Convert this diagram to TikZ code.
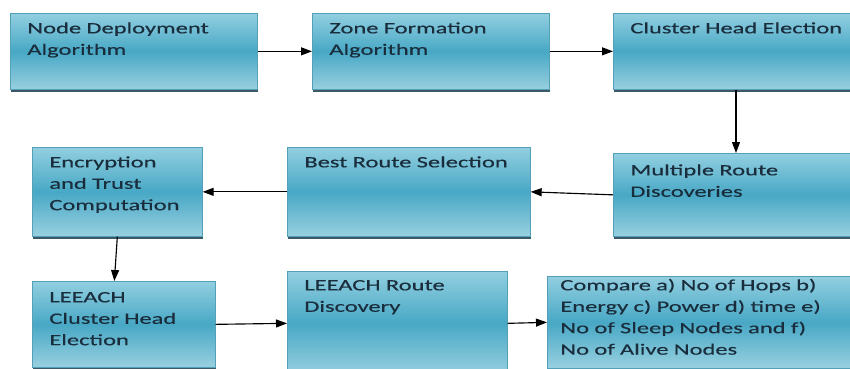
\documentclass[tikz,border=0pt]{standalone}
\usepackage{fontspec}
\setmainfont[FakeStretch=1.55,FakeBold=0.3]{Carlito}
\usetikzlibrary{arrows.meta,shadows}
\definecolor{boxtop}{RGB}{146,207,224}
\definecolor{boxmid}{RGB}{72,168,197}
\definecolor{boxbot}{RGB}{152,208,224}
\definecolor{boxline}{RGB}{84,160,184}
\definecolor{boxshadow}{RGB}{40,70,85}
\definecolor{boxtext}{RGB}{25,45,60}

\begin{document}
\begin{tikzpicture}[
    x=0.02cm, y=-0.02cm,
    stage/.style={draw=boxline, line width=0.4pt, anchor=north west, align=left,
                  top color=boxtop, bottom color=boxbot, middle color=boxmid,
                  drop shadow={shadow xshift=0.02cm, shadow yshift=-0.06cm,
                               fill=boxshadow, opacity=0.9},
                  inner xsep=0.34cm, inner ysep=0pt, text height=0.4cm,
                  text=boxtext, font=\fontsize{9pt}{12.2pt}\selectfont},
    flow/.style={-{Triangle[length=0.22cm, width=0.16cm]}, line width=0.65pt, color=black}
]
\useasboundingbox (0,0) rectangle (850,369);
% top row
\node[stage, text width=4.26cm, text depth=1.12cm] (dep) at (10,13) {Node Deployment\\Algorithm};
\node[stage, text width=4.06cm, text depth=1.12cm] (zone) at (312,13) {Zone Formation\\Algorithm};
\node[stage, text width=5.06cm, text depth=1.12cm] (che) at (613,13) {Cluster Head Election};
% middle row
\node[stage, text width=5.06cm, text height=0.44cm, text depth=1.22cm] (mrd) at (613,153) {Multiple Route\\Discoveries};
\node[stage, text width=4.18cm, text depth=1.38cm] (brs) at (287,147) {Best Route Selection};
\node[stage, text width=2.72cm, text depth=1.38cm] (enc) at (32,147) {Encryption\\and Trust\\Computation};
% bottom row
\node[stage, text width=2.98cm, text height=0.42cm, text depth=1.3cm] (lch) at (32,281) {LEEACH\\Cluster Head\\Election};
\node[stage, text width=3.72cm, text height=0.38cm, text depth=1.7cm] (lrd) at (287,271) {LEEACH Route\\Discovery};
\node[stage, inner xsep=0.26cm, text width=6.54cm, text height=0.28cm, text depth=1.56cm] (cmp) at (547,276)
    {Compare a) No of Hops b)\\Energy c) Power d) time e)\\No of Sleep Nodes and f)\\No of Alive Nodes};
% connectors
\draw[flow] (dep) -- (zone);
\draw[flow] (zone) -- (che);
\draw[flow] (che.south -| 736,0) -- (mrd.north -| 736,0);
\draw[flow] (mrd.west) -- (brs.east);
\draw[flow] (brs.west) -- (enc.east);
\draw[flow] (enc.south) -- ([xshift=-0.06cm]enc.south |- lch.north);
\draw[flow] (lch.east) -- (lrd.west);
\draw[flow] (lrd.east) -- (cmp.west);
\end{tikzpicture}
\end{document}
